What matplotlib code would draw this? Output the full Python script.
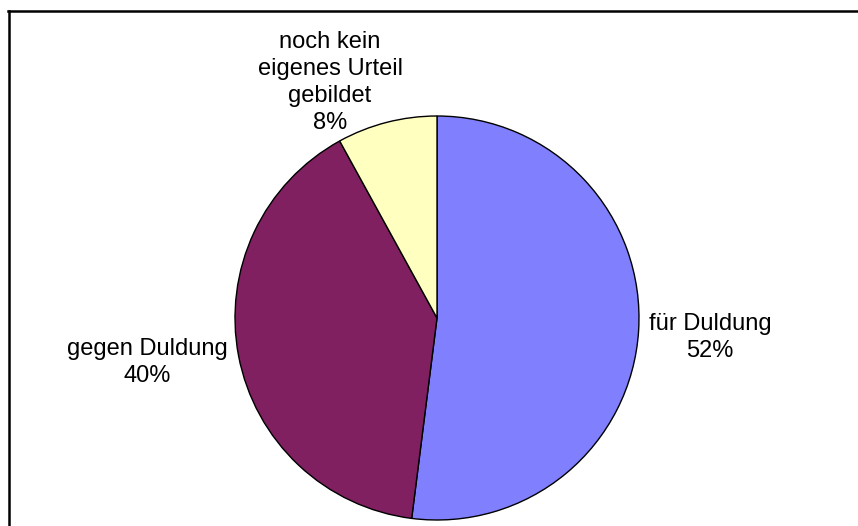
import numpy as np
import matplotlib.pyplot as plt

# ─────────────────────────────────────────────
# DATOS
# ─────────────────────────────────────────────
labels  = ["für Duldung", "gegen Duldung", "noch kein\neigenes Urteil\ngebildet"]
values  = [52, 40, 8]
colors  = ["#8080FF", "#802060", "#FFFFC0"]
# distancia radial de cada etiqueta (en radios) y ajuste angular (grados)
lab_r   = [1.355, 1.453, 1.282]
lab_da  = [-0.4, -2.0, 10.0]

plt.rcParams["font.family"] = ["Liberation Sans", "DejaVu Sans"]

fig = plt.figure(figsize=(8.58, 5.26), dpi=100)
fig.patch.set_facecolor("white")

# marco del área del gráfico (solo izquierda y arriba visibles)
fig.add_artist(plt.Line2D([9 / 858, 9 / 858], [0, 1 - 11 / 526],
                          color="black", linewidth=1.8, transform=fig.transFigure))
fig.add_artist(plt.Line2D([8 / 858, 1], [1 - 11 / 526, 1 - 11 / 526],
                          color="black", linewidth=1.8, transform=fig.transFigure))

ax = fig.add_axes([235 / 858, 6 / 526, 404 / 858, 404 / 526])
wedges, _ = ax.pie(values, colors=colors, startangle=90, counterclock=False,
                   wedgeprops=dict(edgecolor="black", linewidth=1.0))
ax.set_xlim(-1, 1)
ax.set_ylim(-1, 1)
ax.set_aspect("equal")
ax.axis("off")

for w, lab, v, r, da in zip(wedges, labels, values, lab_r, lab_da):
    ang = np.deg2rad((w.theta1 + w.theta2) / 2 + da)
    ax.text(r * np.cos(ang), r * np.sin(ang), f"{lab}\n{v}%",
            ha="center", va="center", fontsize=17, color="black",
            linespacing=1.29, clip_on=False)

plt.savefig("out.png", dpi=100, facecolor=fig.get_facecolor())
